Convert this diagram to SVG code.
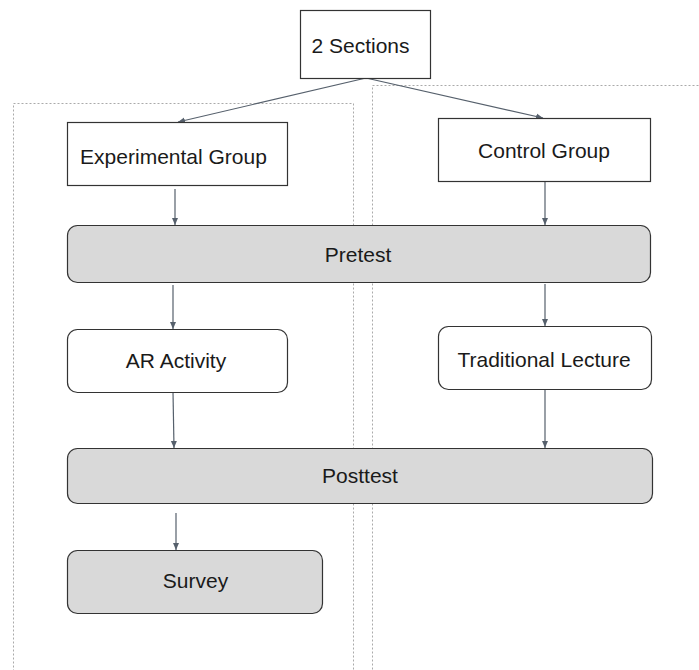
<svg xmlns="http://www.w3.org/2000/svg" width="699" height="670" viewBox="0 0 699 670">
<defs>
<style>
.bx{fill:#fff;stroke:#333;stroke-width:1.2}
.gr{fill:#d9d9d9;stroke:#333;stroke-width:1.2}
.t{font-family:"Liberation Sans",Arial,sans-serif;font-size:21px;fill:#1a1a1a;text-anchor:middle}
.c{stroke:#56606c;stroke-width:1.2;fill:none}
.d{fill:none;stroke:#aaa;stroke-width:1;stroke-dasharray:2 2}
</style>
<marker id="ah" markerWidth="8" markerHeight="8" refX="7" refY="4" orient="auto" markerUnits="userSpaceOnUse">
<path d="M0,1 L7,4 L0,7 Z" fill="#56606c"/>
</marker>
</defs>
<rect width="699" height="670" fill="#fff"/>
<g id="regions">
<rect class="d" x="13.5" y="103.5" width="340" height="580"/>
<rect class="d" x="372.5" y="85.5" width="330" height="600"/>
</g>
<g id="connectors">
<line class="c" x1="366" y1="78" x2="178" y2="122" marker-end="url(#ah)"/>
<line class="c" x1="366" y1="78" x2="543" y2="118" marker-end="url(#ah)"/>
<line class="c" x1="175" y1="189" x2="175" y2="225" marker-end="url(#ah)"/>
<line class="c" x1="545" y1="182" x2="545" y2="225" marker-end="url(#ah)"/>
<line class="c" x1="173" y1="285" x2="173" y2="329" marker-end="url(#ah)"/>
<line class="c" x1="545" y1="284" x2="545" y2="326" marker-end="url(#ah)"/>
<line class="c" x1="173" y1="392" x2="174" y2="448" marker-end="url(#ah)"/>
<line class="c" x1="545" y1="390" x2="545" y2="448" marker-end="url(#ah)"/>
<line class="c" x1="176" y1="513" x2="176" y2="550" marker-end="url(#ah)"/>
</g>
<g id="sections">
<rect class="bx" x="300.5" y="10.5" width="130" height="68"/>
<text class="t" x="360.5" y="53">2 Sections</text>
</g>
<g id="experimental">
<rect class="bx" x="67.5" y="122.5" width="220" height="63"/>
<text class="t" x="173.5" y="164">Experimental Group</text>
</g>
<g id="control">
<rect class="bx" x="438.5" y="118.5" width="212" height="63"/>
<text class="t" x="544" y="158">Control Group</text>
</g>
<g id="pretest">
<rect class="gr" x="67.5" y="225.5" width="583" height="57" rx="10"/>
<text class="t" x="358" y="262">Pretest</text>
</g>
<g id="ar">
<rect class="bx" x="67.5" y="329.5" width="220" height="63" rx="10"/>
<text class="t" x="176" y="368">AR Activity</text>
</g>
<g id="lecture">
<rect class="bx" x="438.5" y="326.5" width="213" height="63" rx="10"/>
<text class="t" x="544" y="367">Traditional Lecture</text>
</g>
<g id="posttest">
<rect class="gr" x="67.5" y="448.5" width="585" height="55" rx="10"/>
<text class="t" x="360" y="483">Posttest</text>
</g>
<g id="survey">
<rect class="gr" x="67.5" y="550.5" width="255" height="63" rx="10"/>
<text class="t" x="195.5" y="588">Survey</text>
</g>
</svg>
